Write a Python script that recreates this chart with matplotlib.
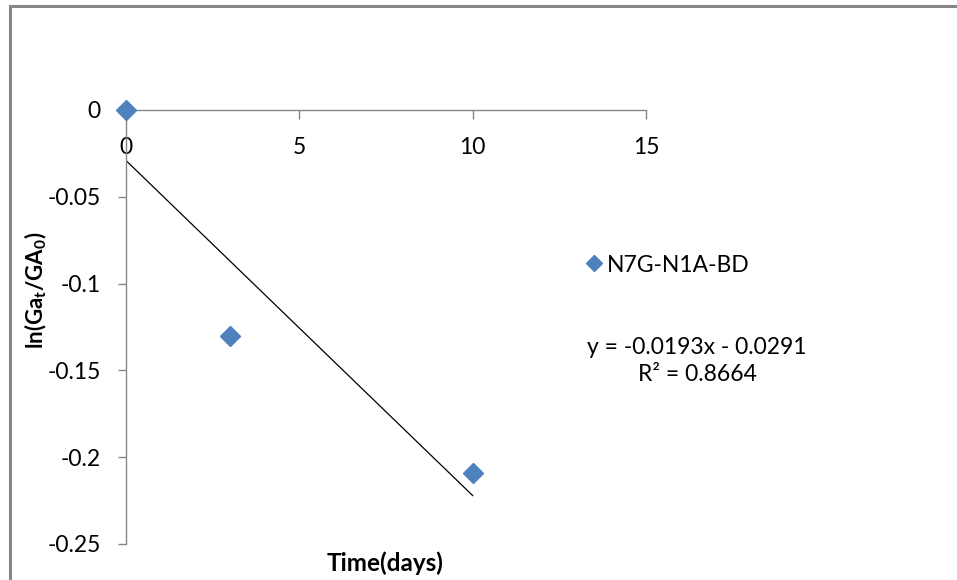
import matplotlib
matplotlib.use("Agg")
import matplotlib.pyplot as plt
import numpy as np

# data
time_days = [0, 3, 10]
ln_ratio = [0.0, -0.130, -0.209]
series_name = "N7G-N1A-BD"
trend_slope = -0.0193
trend_intercept = -0.0291
trend_r2 = 0.8664
x_ticks = [0, 5, 10, 15]
y_ticks = [-0.25, -0.2, -0.15, -0.1, -0.05, 0]
y_tick_labels = ["-0.25", "-0.2", "-0.15", "-0.1", "-0.05", "0"]

plt.rcParams["font.family"] = ["Lato", "DejaVu Sans"]
plt.rcParams["mathtext.fontset"] = "custom"
plt.rcParams["mathtext.rm"] = "Lato"
plt.rcParams["mathtext.bf"] = "Lato:bold"

W, H = 957, 580
fig = plt.figure(figsize=(W / 100, H / 100), dpi=100)
ax = fig.add_axes([126 / W, 1 - 544 / H, 520 / W, 434 / H])

axis_grey = "#868686"
blue = "#4F81BD"
fs = 16.5

ax.plot(time_days, ln_ratio, linestyle="none", marker="D", markersize=10.5,
        color=blue, clip_on=False, zorder=3, label=series_name)

# linear trend line over the data range
tx = np.array([min(time_days), max(time_days)])
ax.plot(tx, trend_slope * tx + trend_intercept, color="black", linewidth=0.9, zorder=2)

ax.set_xlim(0, 15)
ax.set_ylim(-0.25, 0)
ax.set_xticks(x_ticks)
ax.set_yticks(y_ticks)
ax.set_yticklabels(y_tick_labels)

ax.spines["bottom"].set_position(("data", 0))
ax.spines["top"].set_visible(False)
ax.spines["right"].set_visible(False)
for s in ("bottom", "left"):
    ax.spines[s].set_color(axis_grey)
    ax.spines[s].set_linewidth(1.0)

ax.tick_params(axis="x", direction="out", length=6.5, width=1, color=axis_grey,
               pad=13, labelsize=fs)
ax.tick_params(axis="y", direction="out", length=6, width=1, color=axis_grey,
               pad=12, labelsize=fs)

ax.legend(loc="center left", bbox_to_anchor=(566 / W, 1 - 265 / H),
          bbox_transform=fig.transFigure, frameon=False, fontsize=fs,
          handlelength=0.6, handletextpad=0.3, markerscale=0.75)

fig.text(697 / W, 1 - 361 / H,
         f"y = {trend_slope:.4f}x - {abs(trend_intercept):.4f}\nR² = {trend_r2:.4f}",
         ha="center", va="center", multialignment="center", fontsize=fs,
         linespacing=1.4)

fig.text(385 / W, 1 - 563 / H, "Time(days)", ha="center", va="center",
         fontsize=17.5, fontweight="bold")
fig.text(36 / W, 1 - 290 / H, r"$\mathbf{ln(Ga_t/GA_0)}$", ha="center", va="center",
         rotation=90, fontsize=16)

# outer chart border (only top and left edges fall inside the image)
border = plt.Rectangle((10 / W, -0.1), 1.2, 1.1 - 6 / H, transform=fig.transFigure,
                       fill=False, edgecolor=axis_grey, linewidth=2.2)
fig.add_artist(border)

fig.savefig("out.png", dpi=100)
